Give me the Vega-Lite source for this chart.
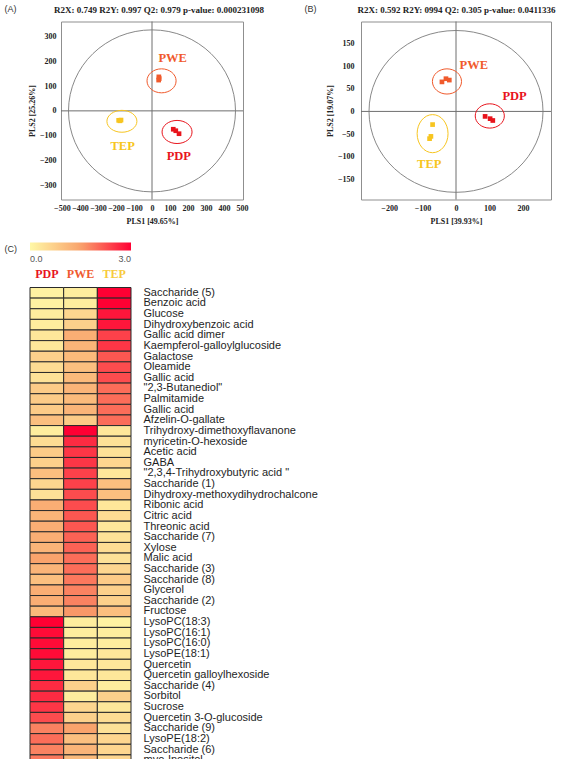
{
  "$schema": "https://vega.github.io/schema/vega-lite/v6.json",
  "background": "white",
  "padding": {"left": 3, "top": 3.5, "right": 0, "bottom": 0},
  "config": {"view": {"stroke": "#8f8f8f", "strokeWidth": 1}, "axis": {"grid": false}},
  "datasets": {
    "A_pts": [
      {"group": "PDP", "x": 118, "y": -74}, {"group": "PDP", "x": 132, "y": -80}, {"group": "PDP", "x": 150, "y": -92},
      {"group": "PWE", "x": 38, "y": 137}, {"group": "PWE", "x": 40, "y": 130}, {"group": "PWE", "x": 37, "y": 124},
      {"group": "TEP", "x": -185, "y": -38}, {"group": "TEP", "x": -178, "y": -40}, {"group": "TEP", "x": -172, "y": -37}
    ],
    "A_ell": [
      {"group": "PDP", "x": 139, "y": -85}, {"group": "PWE", "x": 53, "y": 121}, {"group": "TEP", "x": -167, "y": -42}
    ],
    "A_lab": [
      {"group": "PDP", "x": 149, "y": -181}, {"group": "PWE", "x": 115, "y": 213}, {"group": "TEP", "x": -163, "y": -141}
    ],
    "B_pts": [
      {"group": "PDP", "x": 87, "y": -11}, {"group": "PDP", "x": 102, "y": -16}, {"group": "PDP", "x": 110, "y": -20},
      {"group": "PWE", "x": -42, "y": 65}, {"group": "PWE", "x": -30, "y": 72}, {"group": "PWE", "x": -20, "y": 69},
      {"group": "TEP", "x": -70, "y": -29}, {"group": "TEP", "x": -75, "y": -55}, {"group": "TEP", "x": -79, "y": -60}
    ],
    "B_ell": [
      {"group": "PDP", "x": 101, "y": -10}, {"group": "PWE", "x": -27, "y": 66}, {"group": "TEP", "x": -70, "y": -49}
    ],
    "B_lab": [
      {"group": "PDP", "x": 175, "y": 35}, {"group": "PWE", "x": 53, "y": 103}, {"group": "TEP", "x": -80, "y": -115}
    ],
    "heat": [
      {"name": "Saccharide (5)", "group": "PDP", "value": 0.1}, {"name": "Saccharide (5)", "group": "PWE", "value": 0.2}, {"name": "Saccharide (5)", "group": "TEP", "value": 3.0},
      {"name": "Benzoic acid", "group": "PDP", "value": 0.1}, {"name": "Benzoic acid", "group": "PWE", "value": 0.2}, {"name": "Benzoic acid", "group": "TEP", "value": 3.0},
      {"name": "Glucose", "group": "PDP", "value": 0.2}, {"name": "Glucose", "group": "PWE", "value": 0.6}, {"name": "Glucose", "group": "TEP", "value": 2.8},
      {"name": "Dihydroxybenzoic acid", "group": "PDP", "value": 0.2}, {"name": "Dihydroxybenzoic acid", "group": "PWE", "value": 0.7}, {"name": "Dihydroxybenzoic acid", "group": "TEP", "value": 2.8},
      {"name": "Gallic acid dimer", "group": "PDP", "value": 0.3}, {"name": "Gallic acid dimer", "group": "PWE", "value": 1.3}, {"name": "Gallic acid dimer", "group": "TEP", "value": 2.4},
      {"name": "Kaempferol-galloylglucoside", "group": "PDP", "value": 0.3}, {"name": "Kaempferol-galloylglucoside", "group": "PWE", "value": 1.2}, {"name": "Kaempferol-galloylglucoside", "group": "TEP", "value": 2.5},
      {"name": "Galactose", "group": "PDP", "value": 0.7}, {"name": "Galactose", "group": "PWE", "value": 1.1}, {"name": "Galactose", "group": "TEP", "value": 2.2},
      {"name": "Oleamide", "group": "PDP", "value": 0.5}, {"name": "Oleamide", "group": "PWE", "value": 1.0}, {"name": "Oleamide", "group": "TEP", "value": 2.3},
      {"name": "Gallic acid", "group": "PDP", "value": 0.4}, {"name": "Gallic acid", "group": "PWE", "value": 1.1}, {"name": "Gallic acid", "group": "TEP", "value": 2.3},
      {"name": "\"2,3-Butanediol\"", "group": "PDP", "value": 0.8}, {"name": "\"2,3-Butanediol\"", "group": "PWE", "value": 1.2}, {"name": "\"2,3-Butanediol\"", "group": "TEP", "value": 2.0},
      {"name": "Palmitamide", "group": "PDP", "value": 0.8}, {"name": "Palmitamide", "group": "PWE", "value": 1.1}, {"name": "Palmitamide", "group": "TEP", "value": 2.0},
      {"name": "Gallic acid ", "group": "PDP", "value": 0.8}, {"name": "Gallic acid ", "group": "PWE", "value": 1.2}, {"name": "Gallic acid ", "group": "TEP", "value": 2.0},
      {"name": "Afzelin-O-gallate", "group": "PDP", "value": 1.0}, {"name": "Afzelin-O-gallate", "group": "PWE", "value": 0.8}, {"name": "Afzelin-O-gallate", "group": "TEP", "value": 2.0},
      {"name": "Trihydroxy-dimethoxyflavanone", "group": "PDP", "value": 0.2}, {"name": "Trihydroxy-dimethoxyflavanone", "group": "PWE", "value": 3.0}, {"name": "Trihydroxy-dimethoxyflavanone", "group": "TEP", "value": 0.3},
      {"name": "myricetin-O-hexoside", "group": "PDP", "value": 0.5}, {"name": "myricetin-O-hexoside", "group": "PWE", "value": 2.6}, {"name": "myricetin-O-hexoside", "group": "TEP", "value": 0.4},
      {"name": "Acetic acid", "group": "PDP", "value": 0.8}, {"name": "Acetic acid", "group": "PWE", "value": 2.5}, {"name": "Acetic acid", "group": "TEP", "value": 0.4},
      {"name": "GABA", "group": "PDP", "value": 0.7}, {"name": "GABA", "group": "PWE", "value": 2.5}, {"name": "GABA", "group": "TEP", "value": 0.6},
      {"name": "\"2,3,4-Trihydroxybutyric acid \"", "group": "PDP", "value": 1.0}, {"name": "\"2,3,4-Trihydroxybutyric acid \"", "group": "PWE", "value": 2.4}, {"name": "\"2,3,4-Trihydroxybutyric acid \"", "group": "TEP", "value": 0.3},
      {"name": "Saccharide (1)", "group": "PDP", "value": 0.6}, {"name": "Saccharide (1)", "group": "PWE", "value": 2.4}, {"name": "Saccharide (1)", "group": "TEP", "value": 1.0},
      {"name": "Dihydroxy-methoxydihydrochalcone", "group": "PDP", "value": 0.4}, {"name": "Dihydroxy-methoxydihydrochalcone", "group": "PWE", "value": 2.3}, {"name": "Dihydroxy-methoxydihydrochalcone", "group": "TEP", "value": 1.0},
      {"name": "Ribonic acid", "group": "PDP", "value": 1.3}, {"name": "Ribonic acid", "group": "PWE", "value": 2.3}, {"name": "Ribonic acid", "group": "TEP", "value": 0.3},
      {"name": "Citric acid", "group": "PDP", "value": 1.2}, {"name": "Citric acid", "group": "PWE", "value": 2.2}, {"name": "Citric acid", "group": "TEP", "value": 0.5},
      {"name": "Threonic acid", "group": "PDP", "value": 1.3}, {"name": "Threonic acid", "group": "PWE", "value": 2.2}, {"name": "Threonic acid", "group": "TEP", "value": 0.3},
      {"name": "Saccharide (7)", "group": "PDP", "value": 1.3}, {"name": "Saccharide (7)", "group": "PWE", "value": 2.1}, {"name": "Saccharide (7)", "group": "TEP", "value": 0.4},
      {"name": "Xylose", "group": "PDP", "value": 1.2}, {"name": "Xylose", "group": "PWE", "value": 2.1}, {"name": "Xylose", "group": "TEP", "value": 0.5},
      {"name": "Malic acid", "group": "PDP", "value": 1.5}, {"name": "Malic acid", "group": "PWE", "value": 2.0}, {"name": "Malic acid", "group": "TEP", "value": 0.4},
      {"name": "Saccharide (3)", "group": "PDP", "value": 1.2}, {"name": "Saccharide (3)", "group": "PWE", "value": 2.0}, {"name": "Saccharide (3)", "group": "TEP", "value": 0.6},
      {"name": "Saccharide (8)", "group": "PDP", "value": 1.0}, {"name": "Saccharide (8)", "group": "PWE", "value": 1.9}, {"name": "Saccharide (8)", "group": "TEP", "value": 0.8},
      {"name": "Glycerol", "group": "PDP", "value": 1.3}, {"name": "Glycerol", "group": "PWE", "value": 1.8}, {"name": "Glycerol", "group": "TEP", "value": 0.7},
      {"name": "Saccharide (2)", "group": "PDP", "value": 1.3}, {"name": "Saccharide (2)", "group": "PWE", "value": 1.8}, {"name": "Saccharide (2)", "group": "TEP", "value": 0.7},
      {"name": "Fructose", "group": "PDP", "value": 1.1}, {"name": "Fructose", "group": "PWE", "value": 1.6}, {"name": "Fructose", "group": "TEP", "value": 1.0},
      {"name": "LysoPC(18:3)", "group": "PDP", "value": 3.0}, {"name": "LysoPC(18:3)", "group": "PWE", "value": 0.2}, {"name": "LysoPC(18:3)", "group": "TEP", "value": 0.1},
      {"name": "LysoPC(16:1)", "group": "PDP", "value": 2.9}, {"name": "LysoPC(16:1)", "group": "PWE", "value": 0.2}, {"name": "LysoPC(16:1)", "group": "TEP", "value": 0.2},
      {"name": "LysoPC(16:0)", "group": "PDP", "value": 2.9}, {"name": "LysoPC(16:0)", "group": "PWE", "value": 0.2}, {"name": "LysoPC(16:0)", "group": "TEP", "value": 0.2},
      {"name": "LysoPE(18:1)", "group": "PDP", "value": 2.9}, {"name": "LysoPE(18:1)", "group": "PWE", "value": 0.2}, {"name": "LysoPE(18:1)", "group": "TEP", "value": 0.3},
      {"name": "Quercetin", "group": "PDP", "value": 2.8}, {"name": "Quercetin", "group": "PWE", "value": 0.3}, {"name": "Quercetin", "group": "TEP", "value": 0.3},
      {"name": "Quercetin galloylhexoside", "group": "PDP", "value": 2.8}, {"name": "Quercetin galloylhexoside", "group": "PWE", "value": 0.3}, {"name": "Quercetin galloylhexoside", "group": "TEP", "value": 0.3},
      {"name": "Saccharide (4)", "group": "PDP", "value": 2.6}, {"name": "Saccharide (4)", "group": "PWE", "value": 0.7}, {"name": "Saccharide (4)", "group": "TEP", "value": 0.2},
      {"name": "Sorbitol", "group": "PDP", "value": 2.6}, {"name": "Sorbitol", "group": "PWE", "value": 0.2}, {"name": "Sorbitol", "group": "TEP", "value": 0.7},
      {"name": "Sucrose", "group": "PDP", "value": 2.5}, {"name": "Sucrose", "group": "PWE", "value": 0.6}, {"name": "Sucrose", "group": "TEP", "value": 0.3},
      {"name": "Quercetin 3-O-glucoside", "group": "PDP", "value": 2.3}, {"name": "Quercetin 3-O-glucoside", "group": "PWE", "value": 0.7}, {"name": "Quercetin 3-O-glucoside", "group": "TEP", "value": 0.5},
      {"name": "Saccharide (9)", "group": "PDP", "value": 1.8}, {"name": "Saccharide (9)", "group": "PWE", "value": 1.5}, {"name": "Saccharide (9)", "group": "TEP", "value": 0.4},
      {"name": "LysoPE(18:2)", "group": "PDP", "value": 2.0}, {"name": "LysoPE(18:2)", "group": "PWE", "value": 1.0}, {"name": "LysoPE(18:2)", "group": "TEP", "value": 0.6},
      {"name": "Saccharide (6)", "group": "PDP", "value": 1.8}, {"name": "Saccharide (6)", "group": "PWE", "value": 1.2}, {"name": "Saccharide (6)", "group": "TEP", "value": 0.6},
      {"name": "myo-Inositol", "group": "PDP", "value": 1.9}, {"name": "myo-Inositol", "group": "PWE", "value": 1.1}, {"name": "myo-Inositol", "group": "TEP", "value": 0.6}
    ]
  },
  "vconcat": [
    {
      "hconcat": [
        {
          "width": 1, "height": 178,
          "view": {"stroke": null},
          "data": {"values": []},
          "mark": {"type": "point", "opacity": 0}
        },
        {
          "hconcat": [
            {
              "width": 182, "height": 178,
              "layer": [
                {
                  "data": {"values": [{"v": 0}]},
                  "mark": {"type": "rule", "color": "#6e6e6e", "strokeWidth": 1},
                  "encoding": {
                    "x": {"field": "v", "type": "quantitative", "scale": {"domain": [-505, 505], "nice": false, "zero": false},
                      "axis": {"title": "PLS1 [49.65%]", "values": [-500, -400, -300, -200, -100, 0, 100, 200, 300, 400, 500], "domain": false, "ticks": false, "labelPadding": 5, "labelFlush": false, "labelOverlap": false, "labelFont": "Liberation Serif", "labelFontWeight": "bold", "labelFontSize": 8, "labelColor": "#222", "titleFont": "Liberation Serif", "titleFontWeight": "bold", "titleFontSize": 8, "titleColor": "#222", "titlePadding": 5}}
                  }
                },
                {
                  "data": {"values": [{"v": 0}]},
                  "mark": {"type": "rule", "color": "#6e6e6e", "strokeWidth": 1},
                  "encoding": {
                    "y": {"field": "v", "type": "quantitative", "scale": {"domain": [-357, 360], "nice": false, "zero": false},
                      "axis": {"title": "PLS2 [25.26%]", "values": [-300, -200, -100, 0, 100, 200, 300], "domain": false, "ticks": false, "labelPadding": 5, "labelFlush": false, "labelOverlap": false, "labelFont": "Liberation Serif", "labelFontWeight": "bold", "labelFontSize": 8, "labelColor": "#222", "titleFont": "Liberation Serif", "titleFontWeight": "bold", "titleFontSize": 8, "titleColor": "#222", "titlePadding": 3}}
                  }
                },
                {
                  "data": {"values": [{"cx": 0, "cy": 0}]},
                  "mark": {"type": "point", "shape": "M-1,0A1,0.97,0,1,0,1,0A1,0.97,0,1,0,-1,0Z", "size": 27889, "filled": false, "color": "#7a7a7a", "strokeWidth": 0.9, "opacity": 1},
                  "encoding": {
                    "x": {"field": "cx", "type": "quantitative",
                      "axis": {"orient": "top", "title": "R2X: 0.749 R2Y: 0.997 Q2: 0.979 p-value: 0.000231098", "labels": false, "ticks": false, "domain": false, "titleX": 97.5, "titlePadding": 7, "titleFont": "Liberation Serif", "titleFontWeight": "bold", "titleFontSize": 9, "titleColor": "#222"}},
                    "y": {"field": "cy", "type": "quantitative",
                      "axis": {"orient": "right", "title": "(A)", "labels": false, "ticks": false, "domain": false, "titleAngle": 0, "titleX": -239, "titleY": -13, "titleAlign": "left", "titleBaseline": "middle", "titleFont": "Liberation Sans", "titleFontSize": 9, "titleFontWeight": "normal", "titleColor": "#333"}}
                  }
                },
                {
                  "data": {"name": "A_ell"},
                  "mark": {"type": "point", "filled": false, "size": 900, "strokeWidth": 1, "opacity": 1},
                  "encoding": {
                    "x": {"field": "x", "type": "quantitative", "axis": null},
                    "y": {"field": "y", "type": "quantitative", "axis": null},
                    "color": {"field": "group", "type": "nominal", "scale": {"domain": ["PDP", "PWE", "TEP"], "range": ["#e8141c", "#f05a2c", "#f7c520"]}, "legend": null},
                    "shape": {"field": "group", "type": "nominal", "scale": {"domain": ["PDP", "PWE", "TEP"], "range": ["M-1,0A1,0.77,0,1,0,1,0A1,0.77,0,1,0,-1,0Z", "M-0.97,0A0.97,0.8,0,1,0,0.97,0A0.97,0.8,0,1,0,-0.97,0Z", "M-1,0A1,0.73,0,1,0,1,0A1,0.73,0,1,0,-1,0Z"]}, "legend": null}
                  }
                },
                {
                  "data": {"name": "A_pts"},
                  "mark": {"type": "point", "shape": "square", "filled": true, "size": 22, "opacity": 1},
                  "encoding": {
                    "x": {"field": "x", "type": "quantitative", "axis": null},
                    "y": {"field": "y", "type": "quantitative", "axis": null},
                    "color": {"field": "group", "type": "nominal", "legend": null}
                  }
                },
                {
                  "data": {"name": "A_lab"},
                  "mark": {"type": "text", "font": "Liberation Serif", "fontWeight": "bold", "fontSize": 12.5, "align": "center", "baseline": "middle"},
                  "encoding": {
                    "x": {"field": "x", "type": "quantitative", "axis": null},
                    "y": {"field": "y", "type": "quantitative", "axis": null},
                    "text": {"field": "group"},
                    "color": {"field": "group", "type": "nominal", "legend": null}
                  }
                }
              ],
              "resolve": {"axis": {"x": "independent", "y": "independent"}}
            },
            {
              "width": 190, "height": 178,
              "layer": [
                {
                  "data": {"values": [{"v": 0}]},
                  "mark": {"type": "rule", "color": "#6e6e6e", "strokeWidth": 1},
                  "encoding": {
                    "x": {"field": "v", "type": "quantitative", "scale": {"domain": [-284, 284], "nice": false, "zero": false},
                      "axis": {"title": "PLS1 [39.93%]", "values": [-200, -100, 0, 100, 200], "domain": false, "ticks": false, "labelPadding": 5, "labelFlush": false, "labelOverlap": false, "labelFont": "Liberation Serif", "labelFontWeight": "bold", "labelFontSize": 8, "labelColor": "#222", "titleFont": "Liberation Serif", "titleFontWeight": "bold", "titleFontSize": 8, "titleColor": "#222", "titlePadding": 5}}
                  }
                },
                {
                  "data": {"values": [{"v": 0}]},
                  "mark": {"type": "rule", "color": "#6e6e6e", "strokeWidth": 1},
                  "encoding": {
                    "y": {"field": "v", "type": "quantitative", "scale": {"domain": [-194, 198], "nice": false, "zero": false},
                      "axis": {"title": "PLS2 [19.07%]", "values": [-150, -100, -50, 0, 50, 100, 150], "domain": false, "ticks": false, "labelPadding": 7, "labelFlush": false, "labelOverlap": false, "labelFont": "Liberation Serif", "labelFontWeight": "bold", "labelFontSize": 8, "labelColor": "#222", "titleFont": "Liberation Serif", "titleFontWeight": "bold", "titleFontSize": 8, "titleColor": "#222", "titlePadding": 3}}
                  }
                },
                {
                  "data": {"values": [{"cx": 0, "cy": 0}]},
                  "mark": {"type": "point", "shape": "M-1,0A1,0.93,0,1,0,1,0A1,0.93,0,1,0,-1,0Z", "size": 30276, "filled": false, "color": "#7a7a7a", "strokeWidth": 0.9, "opacity": 1},
                  "encoding": {
                    "x": {"field": "cx", "type": "quantitative",
                      "axis": {"orient": "top", "title": "R2X: 0.592 R2Y: 0994 Q2: 0.305 p-value: 0.0411336", "labels": false, "ticks": false, "domain": false, "titlePadding": 7, "titleFont": "Liberation Serif", "titleFontWeight": "bold", "titleFontSize": 9, "titleColor": "#222"}},
                    "y": {"field": "cy", "type": "quantitative",
                      "axis": {"orient": "right", "title": "(B)", "labels": false, "ticks": false, "domain": false, "titleAngle": 0, "titleX": -247, "titleY": -13, "titleAlign": "left", "titleBaseline": "middle", "titleFont": "Liberation Sans", "titleFontSize": 9, "titleFontWeight": "normal", "titleColor": "#333"}}
                  }
                },
                {
                  "data": {"name": "B_ell"},
                  "mark": {"type": "point", "filled": false, "size": 900, "strokeWidth": 1, "opacity": 1},
                  "encoding": {
                    "x": {"field": "x", "type": "quantitative", "axis": null},
                    "y": {"field": "y", "type": "quantitative", "axis": null},
                    "color": {"field": "group", "type": "nominal", "scale": {"domain": ["PDP", "PWE", "TEP"], "range": ["#e8141c", "#f05a2c", "#f7c520"]}, "legend": null},
                    "shape": {"field": "group", "type": "nominal", "scale": {"domain": ["PDP", "PWE", "TEP"], "range": ["M-0.97,0A0.97,0.81,0,1,0,0.97,0A0.97,0.81,0,1,0,-0.97,0Z", "M-0.97,0A0.97,0.84,0,1,0,0.97,0A0.97,0.84,0,1,0,-0.97,0Z", "M-1.03,0A1.03,1.27,0,1,0,1.03,0A1.03,1.27,0,1,0,-1.03,0Z"]}, "legend": null}
                  }
                },
                {
                  "data": {"name": "B_pts"},
                  "mark": {"type": "point", "shape": "square", "filled": true, "size": 22, "opacity": 1},
                  "encoding": {
                    "x": {"field": "x", "type": "quantitative", "axis": null},
                    "y": {"field": "y", "type": "quantitative", "axis": null},
                    "color": {"field": "group", "type": "nominal", "legend": null}
                  }
                },
                {
                  "data": {"name": "B_lab"},
                  "mark": {"type": "text", "font": "Liberation Serif", "fontWeight": "bold", "fontSize": 12.5, "align": "center", "baseline": "middle"},
                  "encoding": {
                    "x": {"field": "x", "type": "quantitative", "axis": null},
                    "y": {"field": "y", "type": "quantitative", "axis": null},
                    "text": {"field": "group"},
                    "color": {"field": "group", "type": "nominal", "legend": null}
                  }
                }
              ],
              "resolve": {"axis": {"x": "independent", "y": "independent"}}
            }
          ],
          "bounds": "flush",
          "spacing": 118,
          "resolve": {"scale": {"color": "independent", "shape": "independent"}, "legend": {"color": "independent", "shape": "independent"}}
        }
      ],
      "bounds": "flush",
      "spacing": 30,
      "resolve": {"scale": {"color": "independent", "shape": "independent"}, "legend": {"color": "independent", "shape": "independent"}}
    },
    {
      "width": 101, "height": 478,
      "view": {"stroke": null},
      "data": {"name": "heat"},
      "layer": [
        {
          "mark": {"type": "rect", "stroke": "#2a2a2a", "strokeWidth": 1},
          "encoding": {
            "x": {"field": "group", "type": "nominal", "sort": ["PDP", "PWE", "TEP"], "scale": {"padding": 0},
              "axis": {"orient": "top", "title": null, "labelAngle": 0, "domain": false, "ticks": false, "labelPadding": 7, "labelFont": "Liberation Serif", "labelFontWeight": "bold", "labelFontSize": 12,
                "labelColor": {"condition": [{"test": "datum.value === 'PDP'", "value": "#e8141c"}, {"test": "datum.value === 'PWE'", "value": "#ef5a30"}], "value": "#f7cb3c"}}},
            "y": {"field": "name", "type": "nominal", "sort": null, "scale": {"padding": 0},
              "axis": {"orient": "right", "title": null, "domain": false, "ticks": false, "labelPadding": 12, "labelFont": "Liberation Sans", "labelFontSize": 11, "labelColor": "#1e1e1e", "labelLimit": 0, "labelOverlap": false}},
            "color": {"field": "value", "type": "quantitative",
              "scale": {"domain": [0, 1.5, 3], "range": ["#fff8a6", "#f9a36c", "#ff0033"], "interpolate": "rgb"},
              "legend": {"orient": "top", "direction": "horizontal", "title": null, "gradientLength": 101, "gradientThickness": 8, "values": [0, 3], "format": ".1f", "labelFont": "Liberation Sans", "labelFontSize": 9, "labelColor": "#555", "labelOffset": 4, "gradientStrokeWidth": 0, "offset": 4}}
          }
        },
        {
          "mark": {"type": "rect", "fillOpacity": 0, "strokeOpacity": 0},
          "encoding": {
            "x": {"field": "group", "type": "nominal", "sort": ["PDP", "PWE", "TEP"]},
            "y": {"field": "name", "type": "nominal", "sort": null,
              "axis": {"orient": "left", "title": "(C)", "labels": false, "ticks": false, "domain": false, "titleAngle": 0, "titleX": -26, "titleY": -38.7, "titleAlign": "left", "titleBaseline": "middle", "titleFont": "Liberation Sans", "titleFontSize": 9, "titleFontWeight": "normal", "titleColor": "#333"}}
          }
        }
      ],
      "resolve": {"axis": {"y": "independent"}}
    }
  ],
  "spacing": 16,
  "resolve": {"scale": {"color": "independent", "shape": "independent"}, "legend": {"color": "independent", "shape": "independent"}}
}
